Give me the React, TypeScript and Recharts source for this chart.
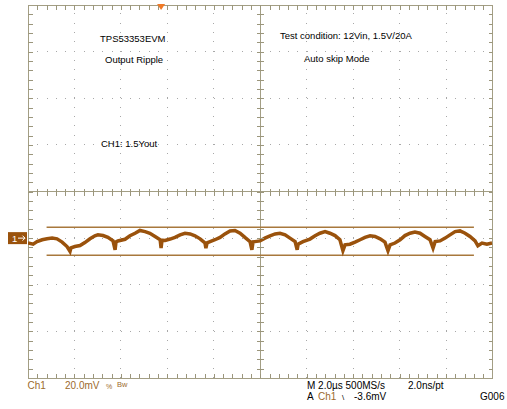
import React from "react";
import {
  ComposedChart,
  Line,
  Scatter,
  XAxis,
  YAxis,
  ReferenceLine,
  ReferenceDot,
} from "recharts";

// time axis in µs (2.0 µs/div, 10 divs), ripple in mV (20 mV/div, ground = 0)
const timeUs = [
  -10.0, -9.78, -9.61, -9.39, -9.18, -8.96, -8.75, -8.53, -8.32, -8.19, -8.15,
  -7.98, -7.76, -7.55, -7.33, -7.12, -6.99, -6.77, -6.56, -6.34, -6.25, -6.21,
  -6.13, -5.82, -5.61, -5.39, -5.18, -4.96, -4.75, -4.53, -4.31, -4.27, -4.23,
  -4.1, -3.88, -3.67, -3.45, -3.24, -3.02, -2.81, -2.59, -2.38, -2.34, -2.29,
  -2.16, -1.95, -1.73, -1.52, -1.3, -1.09, -0.87, -0.66, -0.44, -0.36, -0.31,
  -0.23, -0.01, 0.2, 0.42, 0.64, 0.85, 1.07, 1.28, 1.5, 1.59, 1.63, 1.84, 2.14,
  2.36, 2.57, 2.79, 3.0, 3.22, 3.43, 3.56, 3.65, 3.86, 4.08, 4.3, 4.51, 4.73,
  4.94, 5.16, 5.37, 5.5, 5.59, 5.8, 6.02, 6.23, 6.45, 6.66, 6.88, 7.09, 7.31,
  7.44, 7.53, 7.74, 7.96, 8.17, 8.39, 8.6, 8.82, 9.03, 9.25, 9.37, 9.55, 9.76,
  9.98,
];

const rippleMv = [
  -2.1, -2.6, -1.5, -0.7, -0.3, 0.0, -0.3, -1.7, -3.6, -5.7, -4.2, -3.6, -3.2,
  -1.9, -0.3, 1.0, 1.4, 1.1, 0.3, -1.2, -5.0, -1.6, -1.2, -0.5, 1.0, 2.1, 3.3,
  2.8, 2.1, 0.7, -0.7, -4.3, -0.9, -1.0, -0.4, 0.3, 1.4, 2.1, 1.8, 1.0, -0.3,
  -2.1, -4.3, -2.0, -1.5, -0.7, 0.3, 1.8, 3.1, 3.3, 2.1, 0.3, -1.5, -5.0, -1.6,
  -1.5, -1.2, 0.0, 1.0, 1.8, 2.1, 1.4, 0.0, -1.5, -5.0, -2.6, -1.5, -0.4, 1.0,
  2.1, 2.8, 2.1, 1.1, -0.7, -5.4, -2.9, -2.6, -1.7, -0.7, 0.3, 1.0, 0.7, -0.3,
  -1.7, -5.4, -2.9, -2.1, -0.7, 1.1, 2.1, 2.6, 2.1, 0.7, -0.7, -4.3, -1.5,
  -1.2, 0.0, 1.4, 2.8, 3.1, 2.1, 0.7, -1.2, -3.3, -2.1, -2.6, -2.1,
];

const cursorLevels = [4.7, -7.3];
const cursorSpan = [-9.2, 9.2];
const triggerPos = -4.27;

const X_DOMAIN: [number, number] = [-10, 10];
const Y_DOMAIN: [number, number] = [-60, 100];
const X_CENTER = 0;
const Y_CENTER = 20;

const data = timeUs.map((t, i) => ({ t, v: rippleMv[i] }));

const W = 507;
const H = 409;
const margin = { top: 5, right: 14.5, bottom: 31, left: 28 };

// graticule: 5 minor marks per division
const xMajor = [-8, -6, -4, -2, 2, 4, 6, 8];
const yMajor = [-40, -20, 0, 40, 60, 80];
const xMinor = Array.from({ length: 49 }, (_, i) => Math.round((-9.6 + i * 0.4) * 100) / 100);
const yMinor = Array.from({ length: 39 }, (_, i) => -56 + i * 4);

const tickMarks = [
  ...xMinor.map((t) => ({ t, v: Y_DOMAIN[1], dir: "down" })),
  ...xMinor.map((t) => ({ t, v: Y_DOMAIN[0], dir: "up" })),
  ...xMinor.map((t) => ({ t, v: Y_CENTER, dir: "vc" })),
  ...yMinor.map((v) => ({ t: X_DOMAIN[0], v, dir: "right" })),
  ...yMinor.map((v) => ({ t: X_DOMAIN[1], v, dir: "left" })),
  ...yMinor.map((v) => ({ t: X_CENTER, v, dir: "hc" })),
];

const FRAME = "#a39e84";
const TICK = "#9b967c";
const DOTS = "#a8a8a8";
const TRACE = "#9a520c";
const CURSOR = "#a8783c";
const BROWN_TEXT = "#9c6a2c";
const FONT = "'Liberation Sans', Arial, sans-serif";

function Txt({
  x,
  base,
  size = 9.5,
  color = "#000",
  children,
}: {
  x: number;
  base: number;
  size?: number;
  color?: string;
  children: React.ReactNode;
}) {
  return (
    <div
      style={{
        position: "absolute",
        left: x,
        top: base - size * 0.847,
        fontSize: size,
        lineHeight: `${size}px`,
        color,
        fontFamily: FONT,
        whiteSpace: "nowrap",
      }}
    >
      {children}
    </div>
  );
}

// pixel-aligned filled rects so the small marks stay sharp
const TickShape = (props: any) => {
  const { cx, cy, payload } = props;
  if (cx == null || cy == null) return <g />;
  const px = Math.round(cx);
  const py = Math.round(cy);
  const dir = payload?.dir;
  let r = { x: px - 3, y: py, w: 7, h: 1 };
  if (dir === "down") r = { x: px, y: py, w: 1, h: 5 };
  else if (dir === "up") r = { x: px, y: py - 4, w: 1, h: 5 };
  else if (dir === "vc") r = { x: px, y: py - 3, w: 1, h: 7 };
  else if (dir === "right") r = { x: px, y: py, w: 5, h: 1 };
  else if (dir === "left") r = { x: px - 4, y: py, w: 5, h: 1 };
  return (
    <rect
      x={r.x}
      y={r.y}
      width={r.w}
      height={r.h}
      fill={TICK}
      shapeRendering="crispEdges"
    />
  );
};

const ChannelMarker = (props: any) => {
  const { cx, cy } = props;
  return (
    <g>
      <rect x={cx - 20} y={cy - 6} width={19} height={12} fill="#9a520c" />
      <text x={cx - 16} y={cy + 3.5} fill="#fff" fontSize={9.5} fontFamily={FONT}>
        1
      </text>
      <path
        d={`M${cx - 10} ${cy} L${cx - 3} ${cy} M${cx - 5.5} ${cy - 2.5} L${cx - 3} ${cy} L${cx - 5.5} ${cy + 2.5}`}
        stroke="#fff"
        strokeWidth={1}
        fill="none"
      />
    </g>
  );
};

const TriggerMarker = (props: any) => {
  const { cx, cy } = props;
  return (
    <path
      d={`M${cx - 4} ${cy - 1} L${cx + 4} ${cy - 1} L${cx} ${cy + 5} Z`}
      fill="#f07a28"
    />
  );
};

export default function App() {
  return (
    <div
      style={{
        position: "absolute",
        left: 0,
        top: 0,
        width: W,
        height: H,
        background: "#fff",
      }}
    >
      <ComposedChart width={W} height={H} data={data} margin={margin}>
        <XAxis dataKey="t" type="number" domain={X_DOMAIN} hide allowDataOverflow />
        <YAxis dataKey="v" type="number" domain={Y_DOMAIN} hide allowDataOverflow />

        {xMajor.map((x) => (
          <ReferenceLine key={`gx${x}`} x={x} stroke={DOTS} strokeDasharray="1 8.325" shapeRendering="crispEdges" />
        ))}
        {yMajor.map((y) => (
          <ReferenceLine key={`gy${y}`} y={y} stroke={DOTS} strokeDasharray="1 8.29" shapeRendering="crispEdges" />
        ))}

        <ReferenceLine x={X_DOMAIN[0]} stroke={FRAME} shapeRendering="crispEdges" />
        <ReferenceLine x={X_DOMAIN[1]} stroke={FRAME} shapeRendering="crispEdges" />
        <ReferenceLine y={Y_DOMAIN[0]} stroke={FRAME} shapeRendering="crispEdges" />
        <ReferenceLine y={Y_DOMAIN[1]} stroke={FRAME} shapeRendering="crispEdges" />
        <ReferenceLine x={X_CENTER} stroke={FRAME} shapeRendering="crispEdges" />
        <ReferenceLine y={Y_CENTER} stroke={FRAME} shapeRendering="crispEdges" />

        <Scatter
          data={tickMarks}
          dataKey="v"
          shape={TickShape}
          isAnimationActive={false}
        />

        {cursorLevels.map((c) => (
          <ReferenceLine
            key={`cur${c}`}
            segment={[
              { x: cursorSpan[0], y: c },
              { x: cursorSpan[1], y: c },
            ]}
            stroke={CURSOR}
            strokeWidth={1.5}
          />
        ))}

        <Line
          type="linear"
          dataKey="v"
          stroke={TRACE}
          strokeWidth={3.5}
          strokeLinejoin="miter"
          dot={false}
          isAnimationActive={false}
        />

        <ReferenceDot x={X_DOMAIN[0]} y={0} ifOverflow="visible" shape={ChannelMarker} />
        <ReferenceDot x={triggerPos} y={Y_DOMAIN[1]} ifOverflow="visible" shape={TriggerMarker} />
      </ComposedChart>

      <Txt x={100} base={41.8}>TPS53353EVM</Txt>
      <Txt x={105} base={63.3}>Output Ripple</Txt>
      <Txt x={101} base={146.8}>CH1: 1.5Yout</Txt>
      <Txt x={280} base={39.2}>Test condition: 12Vin, 1.5V/20A</Txt>
      <Txt x={304} base={61.8}>Auto skip Mode</Txt>

      <Txt x={27.5} base={389.5} size={10} color={BROWN_TEXT}>Ch1</Txt>
      <Txt x={65} base={389.5} size={10} color={BROWN_TEXT}>20.0mV</Txt>
      <Txt x={106} base={388.5} size={7} color={BROWN_TEXT}>%</Txt>
      <Txt x={117} base={387} size={7.5} color={BROWN_TEXT}>Bw</Txt>
      <Txt x={307} base={389.5} size={10}>M 2.0µs 500MS/s</Txt>
      <Txt x={408} base={389.5} size={10}>2.0ns/pt</Txt>
      <Txt x={307} base={400.5} size={10}>A</Txt>
      <Txt x={318} base={400.5} size={10} color={BROWN_TEXT}>Ch1</Txt>
      <Txt x={342} base={400.5} size={8}>\</Txt>
      <Txt x={354} base={400.5} size={10}>-3.6mV</Txt>
      <Txt x={480} base={400.5} size={10}>G006</Txt>
    </div>
  );
}
